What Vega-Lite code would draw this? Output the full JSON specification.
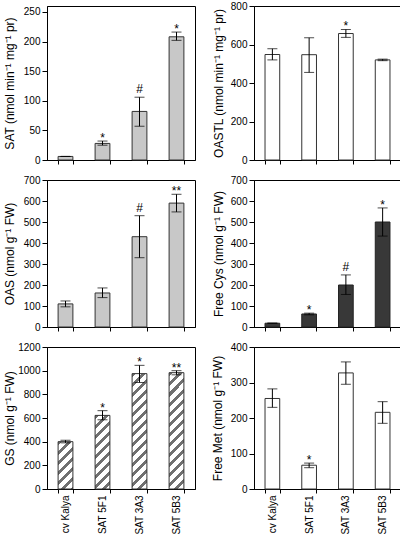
{
  "$schema": "https://vega.github.io/schema/vega-lite/v6.json",
  "padding": {"left": 2, "top": 0, "right": 0, "bottom": 0},
  "bounds": "flush",
  "columns": 2,
  "spacing": {"row": 20, "column": 59},
  "config": {
    "view": {"stroke": "black", "strokeWidth": 1},
    "axis": {"domainColor": "black", "tickColor": "black", "labelColor": "black", "titleColor": "black", "labelFont": "Liberation Sans", "titleFont": "Liberation Sans", "labelFontSize": 10, "titleFontSize": 12, "titleFontWeight": "normal", "grid": false, "tickSize": 5, "labelPadding": 2, "labelOverlap": false},
    "text": {"font": "Liberation Sans"}
  },
  "datasets": {
    "d": [
      {"p": "SAT", "c": "cv Kalya", "v": 6, "lo": 6, "hi": 6, "s": ""},
      {"p": "SAT", "c": "SAT 5F1", "v": 28, "lo": 25, "hi": 32, "s": "*"},
      {"p": "SAT", "c": "SAT 3A3", "v": 82, "lo": 57, "hi": 106, "s": "#"},
      {"p": "SAT", "c": "SAT 5B3", "v": 208, "lo": 202, "hi": 216, "s": "*"},
      {"p": "OASTL", "c": "cv Kalya", "v": 548, "lo": 520, "hi": 578, "s": ""},
      {"p": "OASTL", "c": "SAT 5F1", "v": 547, "lo": 455, "hi": 635, "s": ""},
      {"p": "OASTL", "c": "SAT 3A3", "v": 657, "lo": 637, "hi": 678, "s": "*"},
      {"p": "OASTL", "c": "SAT 5B3", "v": 520, "lo": 516, "hi": 524, "s": ""},
      {"p": "OAS", "c": "cv Kalya", "v": 110, "lo": 96, "hi": 124, "s": ""},
      {"p": "OAS", "c": "SAT 5F1", "v": 162, "lo": 140, "hi": 186, "s": ""},
      {"p": "OAS", "c": "SAT 3A3", "v": 430, "lo": 330, "hi": 530, "s": "#"},
      {"p": "OAS", "c": "SAT 5B3", "v": 590, "lo": 548, "hi": 632, "s": "**"},
      {"p": "Cys", "c": "cv Kalya", "v": 18, "lo": 17, "hi": 19, "s": ""},
      {"p": "Cys", "c": "SAT 5F1", "v": 62, "lo": 58, "hi": 66, "s": "*"},
      {"p": "Cys", "c": "SAT 3A3", "v": 200, "lo": 155, "hi": 248, "s": "#"},
      {"p": "Cys", "c": "SAT 5B3", "v": 500, "lo": 433, "hi": 567, "s": "*"},
      {"p": "GS", "c": "cv Kalya", "v": 400, "lo": 390, "hi": 412, "s": ""},
      {"p": "GS", "c": "SAT 5F1", "v": 622, "lo": 585, "hi": 662, "s": "*"},
      {"p": "GS", "c": "SAT 3A3", "v": 975, "lo": 900, "hi": 1045, "s": "*"},
      {"p": "GS", "c": "SAT 5B3", "v": 983, "lo": 965, "hi": 1000, "s": "**"},
      {"p": "Met", "c": "cv Kalya", "v": 255, "lo": 230, "hi": 282, "s": ""},
      {"p": "Met", "c": "SAT 5F1", "v": 67, "lo": 60, "hi": 73, "s": "*"},
      {"p": "Met", "c": "SAT 3A3", "v": 327, "lo": 295, "hi": 358, "s": ""},
      {"p": "Met", "c": "SAT 5B3", "v": 216, "lo": 185, "hi": 246, "s": ""}
    ]
  },
  "concat": [
    {
      "width": 148, "height": 154,
      "data": {"name": "d"},
      "transform": [{"filter": "datum.p == 'SAT'"}],
      "encoding": {"x": {"field": "c", "type": "nominal", "sort": null, "scale": {"paddingInner": 0.6, "paddingOuter": 0.3}, "axis": {"title": null, "labels": false, "tickBand": "extent", "tickSize": 4}}},
      "layer": [
        {"mark": {"type": "bar", "fill": "#c8c8c8", "stroke": "#333333", "strokeWidth": 1}, "encoding": {"y": {"field": "v", "type": "quantitative", "scale": {"domain": [0, 250]}, "axis": {"title": "SAT (nmol min⁻¹ mg⁻¹ pr)", "values": [0, 50, 100, 150, 200, 250], "tickCount": 20, "format": "d", "titleX": -38, "titleBaseline": "middle"}}}},
        {"mark": {"type": "rule", "color": "black"}, "encoding": {"y": {"field": "lo", "type": "quantitative"}, "y2": {"field": "hi"}}},
        {"mark": {"type": "tick", "color": "black", "size": 10, "thickness": 1}, "encoding": {"y": {"field": "lo", "type": "quantitative"}}},
        {"mark": {"type": "tick", "color": "black", "size": 10, "thickness": 1}, "encoding": {"y": {"field": "hi", "type": "quantitative"}}},
        {"transform": [{"filter": "datum.s == '#'"}], "mark": {"type": "text", "baseline": "alphabetic", "dy": -4, "fontSize": 12, "color": "black"}, "encoding": {"y": {"field": "hi", "type": "quantitative"}, "text": {"field": "s"}}},
        {"transform": [{"filter": "indexof(datum.s, '*') >= 0"}], "mark": {"type": "text", "baseline": "alphabetic", "dy": 1, "fontSize": 12, "color": "black"}, "encoding": {"y": {"field": "hi", "type": "quantitative"}, "text": {"field": "s"}}}
      ]
    },
    {
      "width": 147, "height": 154,
      "data": {"name": "d"},
      "transform": [{"filter": "datum.p == 'OASTL'"}],
      "encoding": {"x": {"field": "c", "type": "nominal", "sort": null, "scale": {"paddingInner": 0.6, "paddingOuter": 0.3}, "axis": {"title": null, "labels": false, "tickBand": "extent", "tickSize": 4}}},
      "layer": [
        {"mark": {"type": "bar", "fill": "#ffffff", "stroke": "#333333", "strokeWidth": 1}, "encoding": {"y": {"field": "v", "type": "quantitative", "scale": {"domain": [0, 800]}, "axis": {"title": "OASTL (nmol min⁻¹ mg⁻¹ pr)", "values": [0, 200, 400, 600, 800], "tickCount": 20, "format": "d", "titleX": -36, "titleBaseline": "middle"}}}},
        {"mark": {"type": "rule", "color": "black"}, "encoding": {"y": {"field": "lo", "type": "quantitative"}, "y2": {"field": "hi"}}},
        {"mark": {"type": "tick", "color": "black", "size": 10, "thickness": 1}, "encoding": {"y": {"field": "lo", "type": "quantitative"}}},
        {"mark": {"type": "tick", "color": "black", "size": 10, "thickness": 1}, "encoding": {"y": {"field": "hi", "type": "quantitative"}}},
        {"transform": [{"filter": "datum.s == '#'"}], "mark": {"type": "text", "baseline": "alphabetic", "dy": -4, "fontSize": 12, "color": "black"}, "encoding": {"y": {"field": "hi", "type": "quantitative"}, "text": {"field": "s"}}},
        {"transform": [{"filter": "indexof(datum.s, '*') >= 0"}], "mark": {"type": "text", "baseline": "alphabetic", "dy": 1, "fontSize": 12, "color": "black"}, "encoding": {"y": {"field": "hi", "type": "quantitative"}, "text": {"field": "s"}}}
      ]
    },
    {
      "width": 148, "height": 147,
      "data": {"name": "d"},
      "transform": [{"filter": "datum.p == 'OAS'"}],
      "encoding": {"x": {"field": "c", "type": "nominal", "sort": null, "scale": {"paddingInner": 0.6, "paddingOuter": 0.3}, "axis": {"title": null, "labels": false, "tickBand": "extent", "tickSize": 4}}},
      "layer": [
        {"mark": {"type": "bar", "fill": "#c8c8c8", "stroke": "#333333", "strokeWidth": 1}, "encoding": {"y": {"field": "v", "type": "quantitative", "scale": {"domain": [0, 700]}, "axis": {"title": "OAS (nmol g⁻¹ FW)", "values": [0, 100, 200, 300, 400, 500, 600, 700], "tickCount": 20, "format": "d", "titleX": -38, "titleBaseline": "middle"}}}},
        {"mark": {"type": "rule", "color": "black"}, "encoding": {"y": {"field": "lo", "type": "quantitative"}, "y2": {"field": "hi"}}},
        {"mark": {"type": "tick", "color": "black", "size": 10, "thickness": 1}, "encoding": {"y": {"field": "lo", "type": "quantitative"}}},
        {"mark": {"type": "tick", "color": "black", "size": 10, "thickness": 1}, "encoding": {"y": {"field": "hi", "type": "quantitative"}}},
        {"transform": [{"filter": "datum.s == '#'"}], "mark": {"type": "text", "baseline": "alphabetic", "dy": -4, "fontSize": 12, "color": "black"}, "encoding": {"y": {"field": "hi", "type": "quantitative"}, "text": {"field": "s"}}},
        {"transform": [{"filter": "indexof(datum.s, '*') >= 0"}], "mark": {"type": "text", "baseline": "alphabetic", "dy": 1, "fontSize": 12, "color": "black"}, "encoding": {"y": {"field": "hi", "type": "quantitative"}, "text": {"field": "s"}}}
      ]
    },
    {
      "width": 147, "height": 147,
      "data": {"name": "d"},
      "transform": [{"filter": "datum.p == 'Cys'"}],
      "encoding": {"x": {"field": "c", "type": "nominal", "sort": null, "scale": {"paddingInner": 0.6, "paddingOuter": 0.3}, "axis": {"title": null, "labels": false, "tickBand": "extent", "tickSize": 4}}},
      "layer": [
        {"mark": {"type": "bar", "fill": "#383838", "stroke": "#222222", "strokeWidth": 1}, "encoding": {"y": {"field": "v", "type": "quantitative", "scale": {"domain": [0, 700]}, "axis": {"title": "Free Cys (nmol g⁻¹ FW)", "values": [0, 100, 200, 300, 400, 500, 600, 700], "tickCount": 20, "format": "d", "titleX": -36, "titleBaseline": "middle"}}}},
        {"mark": {"type": "rule", "color": "black"}, "encoding": {"y": {"field": "lo", "type": "quantitative"}, "y2": {"field": "hi"}}},
        {"mark": {"type": "tick", "color": "black", "size": 10, "thickness": 1}, "encoding": {"y": {"field": "lo", "type": "quantitative"}}},
        {"mark": {"type": "tick", "color": "black", "size": 10, "thickness": 1}, "encoding": {"y": {"field": "hi", "type": "quantitative"}}},
        {"transform": [{"filter": "datum.s == '#'"}], "mark": {"type": "text", "baseline": "alphabetic", "dy": -4, "fontSize": 12, "color": "black"}, "encoding": {"y": {"field": "hi", "type": "quantitative"}, "text": {"field": "s"}}},
        {"transform": [{"filter": "indexof(datum.s, '*') >= 0"}], "mark": {"type": "text", "baseline": "alphabetic", "dy": 1, "fontSize": 12, "color": "black"}, "encoding": {"y": {"field": "hi", "type": "quantitative"}, "text": {"field": "s"}}}
      ]
    },
    {
      "width": 148, "height": 142,
      "data": {"name": "d"},
      "transform": [{"filter": "datum.p == 'GS'"}],
      "encoding": {"x": {"field": "c", "type": "nominal", "sort": null, "scale": {"paddingInner": 0.6, "paddingOuter": 0.3}, "axis": {"title": null, "labelAngle": -90, "labelPadding": 2, "tickSize": 4, "tickBand": "extent"}}},
      "layer": [
        {"transform": [{"filter": "datum.c == 'cv Kalya'"}], "mark": {"type": "bar", "stroke": "#333333", "strokeWidth": 1, "fill": {"gradient": "linear", "x1": 0, "y1": 0, "x2": 0.374, "y2": 1.196, "stops": [
          {"offset": 0, "color": "#707070"}, {"offset": 0.065, "color": "#707070"}, {"offset": 0.065, "color": "#ffffff"}, {"offset": 0.161, "color": "#ffffff"},
          {"offset": 0.161, "color": "#707070"}, {"offset": 0.226, "color": "#707070"}, {"offset": 0.226, "color": "#ffffff"}, {"offset": 0.323, "color": "#ffffff"},
          {"offset": 0.323, "color": "#707070"}, {"offset": 0.387, "color": "#707070"}, {"offset": 0.387, "color": "#ffffff"}, {"offset": 0.484, "color": "#ffffff"},
          {"offset": 0.484, "color": "#707070"}, {"offset": 0.548, "color": "#707070"}, {"offset": 0.548, "color": "#ffffff"}, {"offset": 0.645, "color": "#ffffff"},
          {"offset": 0.645, "color": "#707070"}, {"offset": 0.71, "color": "#707070"}, {"offset": 0.71, "color": "#ffffff"}, {"offset": 0.806, "color": "#ffffff"},
          {"offset": 0.806, "color": "#707070"}, {"offset": 0.871, "color": "#707070"}, {"offset": 0.871, "color": "#ffffff"}, {"offset": 0.968, "color": "#ffffff"},
          {"offset": 0.968, "color": "#707070"}, {"offset": 1, "color": "#707070"}]}},
         "encoding": {"y": {"field": "v", "type": "quantitative", "scale": {"domain": [0, 1200]}, "axis": {"title": "GS (nmol g⁻¹ FW)", "values": [0, 200, 400, 600, 800, 1000, 1200], "tickCount": 20, "format": "d", "titleX": -38, "titleBaseline": "middle"}}}},
        {"transform": [{"filter": "datum.c == 'SAT 5F1'"}], "mark": {"type": "bar", "stroke": "#333333", "strokeWidth": 1, "fill": {"gradient": "linear", "x1": 0, "y1": 0, "x2": 0.233, "y2": 1.155, "stops": [
          {"offset": 0, "color": "#707070"}, {"offset": 0.045, "color": "#707070"}, {"offset": 0.045, "color": "#ffffff"}, {"offset": 0.114, "color": "#ffffff"},
          {"offset": 0.114, "color": "#707070"}, {"offset": 0.159, "color": "#707070"}, {"offset": 0.159, "color": "#ffffff"}, {"offset": 0.227, "color": "#ffffff"},
          {"offset": 0.227, "color": "#707070"}, {"offset": 0.273, "color": "#707070"}, {"offset": 0.273, "color": "#ffffff"}, {"offset": 0.341, "color": "#ffffff"},
          {"offset": 0.341, "color": "#707070"}, {"offset": 0.386, "color": "#707070"}, {"offset": 0.386, "color": "#ffffff"}, {"offset": 0.455, "color": "#ffffff"},
          {"offset": 0.455, "color": "#707070"}, {"offset": 0.5, "color": "#707070"}, {"offset": 0.5, "color": "#ffffff"}, {"offset": 0.568, "color": "#ffffff"},
          {"offset": 0.568, "color": "#707070"}, {"offset": 0.614, "color": "#707070"}, {"offset": 0.614, "color": "#ffffff"}, {"offset": 0.682, "color": "#ffffff"},
          {"offset": 0.682, "color": "#707070"}, {"offset": 0.727, "color": "#707070"}, {"offset": 0.727, "color": "#ffffff"}, {"offset": 0.795, "color": "#ffffff"},
          {"offset": 0.795, "color": "#707070"}, {"offset": 0.841, "color": "#707070"}, {"offset": 0.841, "color": "#ffffff"}, {"offset": 0.909, "color": "#ffffff"},
          {"offset": 0.909, "color": "#707070"}, {"offset": 0.955, "color": "#707070"}, {"offset": 0.955, "color": "#ffffff"}, {"offset": 1, "color": "#ffffff"}]}},
         "encoding": {"y": {"field": "v", "type": "quantitative"}}},
        {"transform": [{"filter": "datum.c == 'SAT 3A3' || datum.c == 'SAT 5B3'"}], "mark": {"type": "bar", "stroke": "#333333", "strokeWidth": 1, "fill": {"gradient": "linear", "x1": 0, "y1": 0, "x2": 0.142, "y2": 1.11, "stops": [
          {"offset": 0, "color": "#707070"}, {"offset": 0.031, "color": "#707070"}, {"offset": 0.031, "color": "#ffffff"}, {"offset": 0.077, "color": "#ffffff"},
          {"offset": 0.077, "color": "#707070"}, {"offset": 0.108, "color": "#707070"}, {"offset": 0.108, "color": "#ffffff"}, {"offset": 0.154, "color": "#ffffff"},
          {"offset": 0.154, "color": "#707070"}, {"offset": 0.185, "color": "#707070"}, {"offset": 0.185, "color": "#ffffff"}, {"offset": 0.231, "color": "#ffffff"},
          {"offset": 0.231, "color": "#707070"}, {"offset": 0.262, "color": "#707070"}, {"offset": 0.262, "color": "#ffffff"}, {"offset": 0.308, "color": "#ffffff"},
          {"offset": 0.308, "color": "#707070"}, {"offset": 0.338, "color": "#707070"}, {"offset": 0.338, "color": "#ffffff"}, {"offset": 0.385, "color": "#ffffff"},
          {"offset": 0.385, "color": "#707070"}, {"offset": 0.415, "color": "#707070"}, {"offset": 0.415, "color": "#ffffff"}, {"offset": 0.462, "color": "#ffffff"},
          {"offset": 0.462, "color": "#707070"}, {"offset": 0.492, "color": "#707070"}, {"offset": 0.492, "color": "#ffffff"}, {"offset": 0.538, "color": "#ffffff"},
          {"offset": 0.538, "color": "#707070"}, {"offset": 0.569, "color": "#707070"}, {"offset": 0.569, "color": "#ffffff"}, {"offset": 0.615, "color": "#ffffff"},
          {"offset": 0.615, "color": "#707070"}, {"offset": 0.646, "color": "#707070"}, {"offset": 0.646, "color": "#ffffff"}, {"offset": 0.692, "color": "#ffffff"},
          {"offset": 0.692, "color": "#707070"}, {"offset": 0.723, "color": "#707070"}, {"offset": 0.723, "color": "#ffffff"}, {"offset": 0.769, "color": "#ffffff"},
          {"offset": 0.769, "color": "#707070"}, {"offset": 0.8, "color": "#707070"}, {"offset": 0.8, "color": "#ffffff"}, {"offset": 0.846, "color": "#ffffff"},
          {"offset": 0.846, "color": "#707070"}, {"offset": 0.877, "color": "#707070"}, {"offset": 0.877, "color": "#ffffff"}, {"offset": 0.923, "color": "#ffffff"},
          {"offset": 0.923, "color": "#707070"}, {"offset": 0.954, "color": "#707070"}, {"offset": 0.954, "color": "#ffffff"}, {"offset": 1, "color": "#ffffff"}]}},
         "encoding": {"y": {"field": "v", "type": "quantitative"}}},
        {"mark": {"type": "rule", "color": "black"}, "encoding": {"y": {"field": "lo", "type": "quantitative"}, "y2": {"field": "hi"}}},
        {"mark": {"type": "tick", "color": "black", "size": 10, "thickness": 1}, "encoding": {"y": {"field": "lo", "type": "quantitative"}}},
        {"mark": {"type": "tick", "color": "black", "size": 10, "thickness": 1}, "encoding": {"y": {"field": "hi", "type": "quantitative"}}},
        {"transform": [{"filter": "indexof(datum.s, '*') >= 0"}], "mark": {"type": "text", "baseline": "alphabetic", "dy": 1, "fontSize": 12, "color": "black"}, "encoding": {"y": {"field": "hi", "type": "quantitative"}, "text": {"field": "s"}}}
      ]
    },
    {
      "width": 147, "height": 142,
      "data": {"name": "d"},
      "transform": [{"filter": "datum.p == 'Met'"}],
      "encoding": {"x": {"field": "c", "type": "nominal", "sort": null, "scale": {"paddingInner": 0.6, "paddingOuter": 0.3}, "axis": {"title": null, "labelAngle": -90, "labelPadding": 2, "tickSize": 4, "tickBand": "extent"}}},
      "layer": [
        {"mark": {"type": "bar", "fill": "#ffffff", "stroke": "#333333", "strokeWidth": 1}, "encoding": {"y": {"field": "v", "type": "quantitative", "scale": {"domain": [0, 400]}, "axis": {"title": "Free Met (nmol g⁻¹ FW)", "values": [0, 100, 200, 300, 400], "tickCount": 20, "format": "d", "titleX": -37, "titleBaseline": "middle"}}}},
        {"mark": {"type": "rule", "color": "black"}, "encoding": {"y": {"field": "lo", "type": "quantitative"}, "y2": {"field": "hi"}}},
        {"mark": {"type": "tick", "color": "black", "size": 10, "thickness": 1}, "encoding": {"y": {"field": "lo", "type": "quantitative"}}},
        {"mark": {"type": "tick", "color": "black", "size": 10, "thickness": 1}, "encoding": {"y": {"field": "hi", "type": "quantitative"}}},
        {"transform": [{"filter": "indexof(datum.s, '*') >= 0"}], "mark": {"type": "text", "baseline": "alphabetic", "dy": 1, "fontSize": 12, "color": "black"}, "encoding": {"y": {"field": "hi", "type": "quantitative"}, "text": {"field": "s"}}}
      ]
    }
  ]
}
